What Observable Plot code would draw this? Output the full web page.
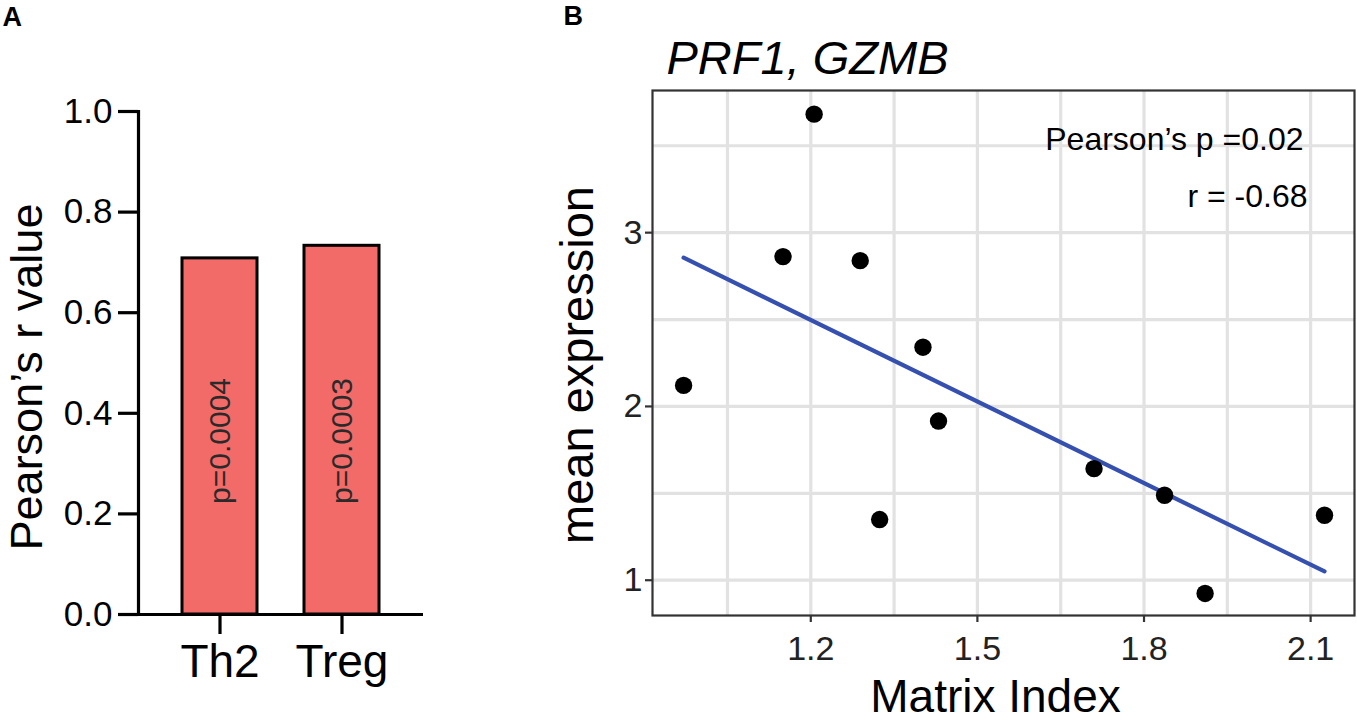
<!DOCTYPE html>
<html>
<head>
<meta charset="utf-8">
<script src="https://cdn.jsdelivr.net/npm/d3@7"></script>
<script src="https://cdn.jsdelivr.net/npm/@observablehq/plot@0.6"></script>
<style>
  html, body { margin: 0; padding: 0; background: #fff; }
  #wrap { position: relative; width: 1357px; height: 721px; background: #fff; overflow: hidden; }
  #panelA, #panelB { position: absolute; top: 0; }
  #panelA { left: 0; }
  #panelB { left: 540px; }
</style>
</head>
<body>
<div id="wrap">
  <div id="panelA"></div>
  <div id="panelB"></div>
</div>
<script>
// ---- Panel A data ----
const cells = ["Th2", "Treg"];
const rValues = [0.708, 0.733];
const pLabels = ["p=0.0004", "p=0.0003"];
const yTicksA = [0, 0.2, 0.4, 0.6, 0.8, 1.0];

// ---- Panel B data ----
const matrixIndex = [0.971, 1.150, 1.206, 1.289, 1.324, 1.402, 1.430, 1.710, 1.837, 1.910, 2.125];
const meanExpr    = [2.121, 2.862, 3.682, 2.839, 1.349, 2.341, 1.916, 1.642, 1.489, 0.924, 1.374];
const xTicksB = [1.2, 1.5, 1.8, 2.1];
const xMinorB = [1.05, 1.35, 1.65, 1.95];
const yTicksB = [1, 2, 3];
const yMinorB = [1.5, 2.5, 3.5];

const FONT = "Arial, 'Liberation Sans', Helvetica, sans-serif";

const barData = cells.map((c, i) => ({cell: c, r: rValues[i], p: pLabels[i]}));
const ptData = matrixIndex.map((x, i) => ({x, y: meanExpr[i]}));

const plotA = Plot.plot({
  width: 450,
  height: 721,
  marginLeft: 138,
  marginRight: 27,
  marginTop: 111,
  marginBottom: 107,
  style: {fontFamily: FONT, background: "transparent", overflow: "visible", color: "#000"},
  x: {type: "band", domain: cells, paddingInner: 0.385, paddingOuter: 0.36},
  y: {domain: [0, 1]},
  marks: [
    Plot.barY(barData, {x: "cell", y: "r", fill: "#f36b69", stroke: "#000", strokeWidth: 3}),
    Plot.text(barData, {x: "cell", y: () => 0.345, text: "p", rotate: -90, fontSize: 30, fill: "#2a2a2a"}),
    Plot.frame({anchor: "left", stroke: "#000", strokeWidth: 3.2}),
    Plot.ruleY([0], {stroke: "#000", strokeWidth: 3.2}),
    Plot.axisY({ticks: yTicksA, tickSize: 20, tickPadding: 6, fontSize: 35, stroke: "#000", strokeWidth: 3.2, fill: "#000", tickFormat: d3.format(".1f"), label: null}),
    Plot.axisX({tickSize: 20, tickPadding: 10, fontSize: 46, stroke: "#000", strokeWidth: 3.2, fill: "#000", label: null}),
    Plot.text(["Pearson’s r value"], {text: d => d, frameAnchor: "left", rotate: -90, textAnchor: "middle", lineAnchor: "bottom", dx: -97, dy: 14, fontSize: 45, fill: "#000"}),
    Plot.text(["A"], {text: d => d, frameAnchor: "top-left", textAnchor: "start", lineAnchor: "bottom", dx: -136, dy: -86, fontSize: 27, fontWeight: "bold", fill: "#000"})
  ]
});
document.getElementById("panelA").appendChild(plotA);

const plotB = Plot.plot({
  width: 817,
  height: 721,
  marginLeft: 112,
  marginRight: 3,
  marginTop: 90,
  marginBottom: 106,
  style: {fontFamily: FONT, background: "transparent", overflow: "visible", color: "#000"},
  x: {domain: [0.915, 2.179]},
  y: {domain: [0.797, 3.818]},
  marks: [
    Plot.gridX({ticks: xMinorB.concat(xTicksB), stroke: "#e2e2e2", strokeOpacity: 1, strokeWidth: 3.2}),
    Plot.gridY({ticks: yMinorB.concat(yTicksB), stroke: "#e2e2e2", strokeOpacity: 1, strokeWidth: 3.2}),
    Plot.linearRegressionY(ptData, {x: "x", y: "y", stroke: "#3550ae", strokeWidth: 4.2, ci: 0}),
    Plot.dot(ptData, {x: "x", y: "y", r: 8.7, fill: "#000", stroke: "none"}),
    Plot.frame({stroke: "#333", strokeWidth: 2.2}),
    Plot.axisX({ticks: xTicksB, tickSize: 7, tickPadding: 13, fontSize: 34, stroke: "#333", strokeWidth: 2.2, fill: "#222", tickFormat: d3.format(".1f"), label: null}),
    Plot.axisY({ticks: yTicksB, tickSize: 7, tickPadding: 3, fontSize: 34, stroke: "#333", strokeWidth: 2.2, fill: "#222", tickFormat: d3.format("d"), label: null}),
    Plot.text(["PRF1, GZMB"], {text: d => d, frameAnchor: "top-left", textAnchor: "start", lineAnchor: "bottom", dx: 14, dy: -17, fontSize: 47, fontStyle: "italic", fill: "#000"}),
    Plot.text(["Pearson’s p =0.02"], {text: d => d, frameAnchor: "top-right", textAnchor: "end", lineAnchor: "bottom", dx: -51, dy: 59, fontSize: 32, fill: "#000"}),
    Plot.text(["r = -0.68"], {text: d => d, frameAnchor: "top-right", textAnchor: "end", lineAnchor: "bottom", dx: -47, dy: 116, fontSize: 32, fill: "#000"}),
    Plot.text(["mean expression"], {text: d => d, frameAnchor: "left", rotate: -90, textAnchor: "middle", lineAnchor: "bottom", dx: -60, dy: 12, fontSize: 47, fill: "#000"}),
    Plot.text(["Matrix Index"], {text: d => d, frameAnchor: "bottom", textAnchor: "middle", lineAnchor: "bottom", dx: -8, dy: 96, fontSize: 46, fill: "#000"}),
    Plot.text(["B"], {text: d => d, frameAnchor: "top-left", textAnchor: "start", lineAnchor: "bottom", dx: -89, dy: -66, fontSize: 27, fontWeight: "bold", fill: "#000"})
  ]
});
document.getElementById("panelB").appendChild(plotB);
</script>
</body>
</html>
